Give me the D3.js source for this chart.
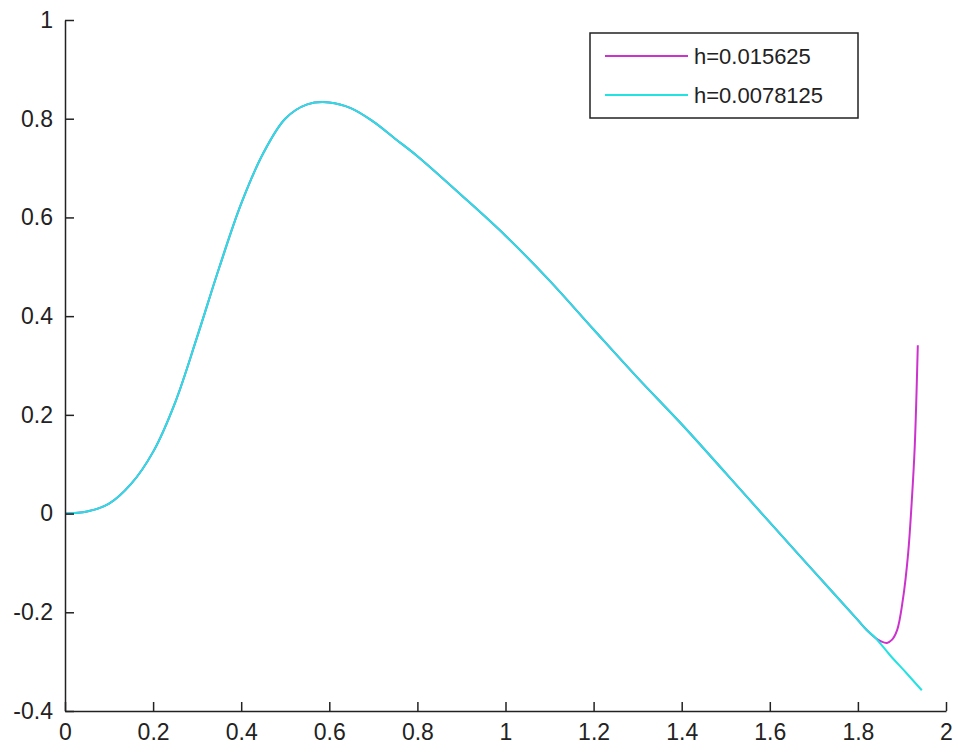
<!DOCTYPE html>
<html>
<head>
<meta charset="utf-8">
<script src="https://cdn.jsdelivr.net/npm/d3@7"></script>
<style>
  html, body { margin: 0; padding: 0; background: #fff; }
  svg { display: block; }
  text { font-family: "Liberation Sans", Arial, sans-serif; fill: #222; }
</style>
</head>
<body>
<svg id="chart" width="958" height="753"></svg>
<script>
// ---- data ----
const xTicks = [0, 0.2, 0.4, 0.6, 0.8, 1, 1.2, 1.4, 1.6, 1.8, 2];
const xTickLabels = ["0", "0.2", "0.4", "0.6", "0.8", "1", "1.2", "1.4", "1.6", "1.8", "2"];
const yTicks = [-0.4, -0.2, 0, 0.2, 0.4, 0.6, 0.8, 1];
const yTickLabels = ["-0.4", "-0.2", "0", "0.2", "0.4", "0.6", "0.8", "1"];

// common part of both solutions
const sharedX = [0, 0.05, 0.1, 0.15, 0.2, 0.25, 0.3, 0.35, 0.4, 0.45, 0.5, 0.55, 0.6, 0.65, 0.7, 0.75, 0.8, 0.9, 1.0, 1.1, 1.2, 1.3, 1.4, 1.5, 1.6, 1.7, 1.8, 1.82, 1.84];
const sharedY = [0, 0.004, 0.020, 0.060, 0.125, 0.225, 0.358, 0.498, 0.628, 0.730, 0.800, 0.829, 0.833, 0.821, 0.794, 0.759, 0.724, 0.645, 0.563, 0.472, 0.373, 0.275, 0.181, 0.082, -0.018, -0.117, -0.216, -0.236, -0.252];

// h = 0.015625 tail (blows up)
const magentaTailX = [1.853, 1.866, 1.877, 1.889, 1.902, 1.914, 1.922, 1.929, 1.936];
const magentaTailY = [-0.259, -0.262, -0.256, -0.236, -0.175, -0.081, 0.021, 0.135, 0.341];

// h = 0.0078125 tail
const cyanTailX = [1.873, 1.91, 1.945];
const cyanTailY = [-0.287, -0.323, -0.358];

const seriesNames = ["h=0.015625", "h=0.0078125"];
const seriesColors = ["#cc33cc", "#22e2e2"];

// ---- build series ----
const shared = sharedX.map((x, i) => [x, sharedY[i]]);
const magenta = shared.concat(magentaTailX.map((x, i) => [x, magentaTailY[i]]));
const cyan = shared.concat(cyanTailX.map((x, i) => [x, cyanTailY[i]]));
const series = [magenta, cyan];

// ---- layout ----
const svg = d3.select("#chart");
const mLeft = 65, mRight = 946, mTop = 20, mBottom = 711;

const x = d3.scaleLinear().domain([0, 2]).range([mLeft, mRight]);
const y = d3.scaleLinear().domain([-0.4, 1]).range([mBottom, mTop]);

const line = d3.line()
  .x(d => x(d[0]))
  .y(d => y(d[1]))
  .curve(d3.curveCatmullRom.alpha(0.5));

const plot = svg.append("g");
series.forEach((s, i) => {
  plot.append("path")
    .datum(s)
    .attr("d", line)
    .attr("fill", "none")
    .attr("stroke", seriesColors[i])
    .attr("stroke-width", 2)
    .attr("stroke-linejoin", "round");
});

// axes
const fontSize = 23;
const xAxis = d3.axisBottom(x)
  .tickValues(xTicks)
  .tickFormat((d, i) => xTickLabels[i])
  .tickSizeInner(-9)
  .tickSizeOuter(0)
  .tickPadding(13);
const gx = svg.append("g").attr("transform", `translate(0,${mBottom})`).call(xAxis);

const yAxis = d3.axisLeft(y)
  .tickValues(yTicks)
  .tickFormat((d, i) => yTickLabels[i])
  .tickSizeInner(-9)
  .tickSizeOuter(0)
  .tickPadding(12);
const gy = svg.append("g").attr("transform", `translate(${mLeft},0)`).call(yAxis);

[gx, gy].forEach(g => {
  g.selectAll(".domain").attr("stroke", "#222").attr("stroke-width", 1.5);
  g.selectAll(".tick line").attr("stroke", "#222").attr("stroke-width", 1.5);
  g.selectAll(".tick text")
    .attr("font-size", fontSize)
    .attr("font-family", "'Liberation Sans', Arial, sans-serif")
    .attr("fill", "#222");
});

// legend
const lg = svg.append("g");
lg.append("rect")
  .attr("x", 590).attr("y", 33)
  .attr("width", 268).attr("height", 85)
  .attr("fill", "#fff")
  .attr("stroke", "#222")
  .attr("stroke-width", 1.5);
const rowY = [56, 95];
seriesNames.forEach((name, i) => {
  lg.append("line")
    .attr("x1", 605).attr("x2", 688)
    .attr("y1", rowY[i]).attr("y2", rowY[i])
    .attr("stroke", seriesColors[i])
    .attr("stroke-width", 2);
  lg.append("text")
    .attr("x", 694).attr("y", rowY[i])
    .attr("dy", "0.35em")
    .attr("font-size", 22)
    .text(name);
});
</script>
</body>
</html>
